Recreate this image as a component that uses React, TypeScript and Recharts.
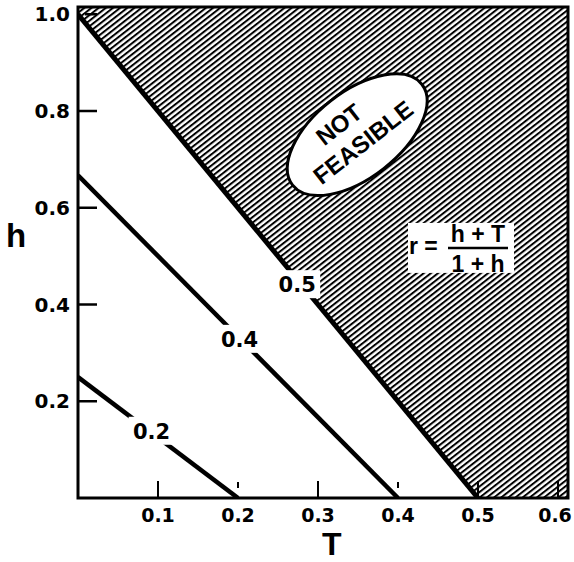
import React from 'react';
import {
  ComposedChart,
  Area,
  Line,
  XAxis,
  YAxis,
  ReferenceArea,
  ReferenceDot,
  Label,
} from 'recharts';

// contours of r = (h + T) / (1 + h), end points
const line02 = [
  { T: 0, h: 0.25 },
  { T: 0.2, h: 0 },
];
const line04 = [
  { T: 0, h: 0.667 },
  { T: 0.4, h: 0 },
];
const line05 = [
  { T: 0, h: 1.0 },
  { T: 0.5, h: 0 },
];

// hatched "not feasible" region above r = 0.5
const hatchT = [0, 0.5, 0.6125];
const hatchLow = [1.0, 0, 0];
const hatchHigh = [1.015, 1.015, 1.015];

const contourLabels = ['0.2', '0.4', '0.5'];
const contourLabelT = [0.092, 0.202, 0.274];
const contourLabelH = [0.139, 0.329, 0.442];

const xTicks = [0.1, 0.2, 0.3, 0.4, 0.5, 0.6];
const yTicks = [0.2, 0.4, 0.6, 0.8, 1.0];

const X_MAX = 0.6125;
const Y_MAX = 1.015;

const notFeasibleAt = { T: 0.349, h: 0.751 };
const formulaAt = { T: 0.4775, h: 0.517 };

const hatchData = hatchT.map((T, i) => ({ T, band: [hatchLow[i], hatchHigh[i]] }));

const FONT = '"DejaVu Sans", sans-serif';
const HELV = '"Liberation Sans", Arial, sans-serif';

const XTick = (props: any) => {
  const { x, y, payload } = props;
  const v = payload.value;
  const short = v === 0.2 || v === 0.4;
  const last = v === xTicks[xTicks.length - 1];
  return (
    <g>
      <line x1={x} x2={x} y1={y - (short ? 10 : 0)} y2={y - (short ? 16 : 17)} stroke="#000" strokeWidth={2} />
      <text x={last ? x - 3 : x} y={y + 24} textAnchor="middle" fontFamily={FONT} fontWeight="bold" fontSize={19}>
        {v.toFixed(1)}
      </text>
    </g>
  );
};

const YTick = (props: any) => {
  const { x, y, payload } = props;
  const v = payload.value;
  return (
    <g>
      <line x1={x + (v === 1 ? 7 : 0)} x2={x + 19} y1={y} y2={y} stroke="#000" strokeWidth={2.5} />
      <text x={x - 8} y={y + 7} textAnchor="end" fontFamily={FONT} fontWeight="bold" fontSize={20}>
        {v.toFixed(1)}
      </text>
    </g>
  );
};

const contourTag = (text: string) => (props: any) => {
  const { cx, cy } = props;
  return (
    <g>
      <rect x={cx - 23} y={cy - 14} width={46} height={28} fill="#fff" />
      <text x={cx} y={cy + 8} textAnchor="middle" fontFamily={FONT} fontWeight="bold" fontSize={21}>
        {text}
      </text>
    </g>
  );
};

const NotFeasible = (props: any) => {
  const { cx, cy } = props;
  return (
    <g transform={`translate(${cx},${cy}) rotate(-38)`}>
      <ellipse cx={0} cy={0} rx={82} ry={43} fill="#fff" stroke="#000" strokeWidth={3} />
      <text x={-8} y={-11} textAnchor="middle" fontFamily={HELV} fontWeight="bold" fontSize={24}>
        NOT
      </text>
      <text x={0} y={18} textAnchor="middle" fontFamily={HELV} fontWeight="bold" fontSize={24}>
        FEASIBLE
      </text>
    </g>
  );
};

const Formula = (props: any) => {
  const { cx, cy } = props;
  const style = { fontFamily: HELV, fontWeight: 'bold' as const, fontSize: 23 };
  return (
    <g>
      <rect x={cx - 52} y={cy - 25} width={106} height={50} fill="#fff" />
      <text x={cx - 51} y={cy + 6} {...style}>
        r =
      </text>
      <line x1={cx - 12} x2={cx + 48} y1={cy} y2={cy} stroke="#000" strokeWidth={2.5} />
      <text x={cx + 18} y={cy - 6} textAnchor="middle" {...style}>
        h + T
      </text>
      <text x={cx + 18} y={cy + 24} textAnchor="middle" {...style}>
        1 + h
      </text>
    </g>
  );
};

export default function App() {
  return (
    <div style={{ position: 'absolute', left: 0, top: 0, width: 574, height: 562, background: '#fff' }}>
      <ComposedChart width={574} height={562} margin={{ top: 7, right: 6, left: 8, bottom: 8 }}>
        <defs>
          <pattern id="hatch" patternUnits="userSpaceOnUse" width={10} height={4.4} patternTransform="rotate(-38)">
            <rect x={0} y={0} width={10} height={2} fill="#000" />
          </pattern>
        </defs>
        <XAxis
          type="number"
          dataKey="T"
          domain={[0, X_MAX]}
          allowDataOverflow
          ticks={xTicks}
          tick={<XTick />}
          tickSize={0}
          tickMargin={0}
          tickLine={false}
          axisLine={false}
          height={56}
        >
          <Label
            content={(p: any) => {
              const vb = p.viewBox;
              return (
                <text x={vb.x + vb.width * 0.518} y={vb.y + 57} textAnchor="middle" fontFamily={HELV} fontWeight="bold" fontSize={32}>
                  T
                </text>
              );
            }}
          />
        </XAxis>
        <YAxis
          type="number"
          domain={[0, Y_MAX]}
          allowDataOverflow
          ticks={yTicks}
          tick={<YTick />}
          tickSize={0}
          tickMargin={0}
          tickLine={false}
          axisLine={false}
          width={70}
        >
          <Label
            content={(p: any) => {
              const vb = p.viewBox;
              return (
                <text x={vb.x + 8} y={vb.y + 240} textAnchor="middle" fontFamily={HELV} fontWeight="bold" fontSize={33}>
                  h
                </text>
              );
            }}
          />
        </YAxis>
        <Area
          data={hatchData}
          dataKey="band"
          type="linear"
          fill="url(#hatch)"
          fillOpacity={1}
          stroke="none"
          isAnimationActive={false}
        />
        <Line data={line02} dataKey="h" type="linear" stroke="#000" strokeWidth={4.5} dot={false} isAnimationActive={false} />
        <Line data={line04} dataKey="h" type="linear" stroke="#000" strokeWidth={4.5} dot={false} isAnimationActive={false} />
        <Line data={line05} dataKey="h" type="linear" stroke="#000" strokeWidth={5} dot={false} isAnimationActive={false} />
        {contourLabels.map((txt, i) => (
          <ReferenceDot key={txt} x={contourLabelT[i]} y={contourLabelH[i]} r={1} shape={contourTag(txt)} />
        ))}
        <ReferenceDot x={notFeasibleAt.T} y={notFeasibleAt.h} r={1} shape={NotFeasible} />
        <ReferenceDot x={formulaAt.T} y={formulaAt.h} r={1} shape={Formula} />
        <ReferenceArea x1={0} x2={X_MAX} y1={0} y2={Y_MAX} fill="none" stroke="#000" strokeWidth={3} />
      </ComposedChart>
    </div>
  );
}
